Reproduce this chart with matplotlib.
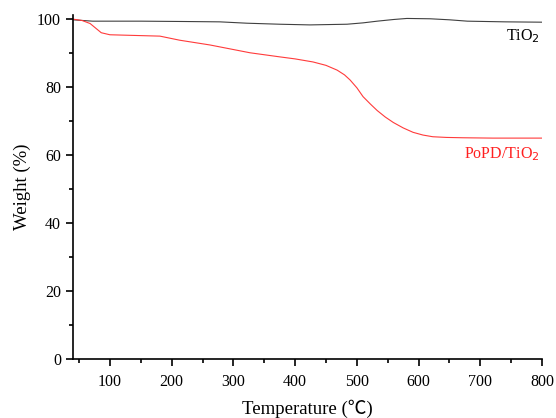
import matplotlib
matplotlib.use("Agg")
import matplotlib.pyplot as plt
from matplotlib.ticker import MultipleLocator

# TGA curves
t_tio2 = [40, 72, 150, 220, 278, 322, 375, 424, 484, 510, 533, 560, 581, 619, 650, 679, 740, 800]
w_tio2 = [99.8, 99.4, 99.4, 99.3, 99.2, 98.8, 98.5, 98.3, 98.5, 98.9, 99.4, 99.9, 100.2, 100.1, 99.8, 99.4, 99.2, 99.1]

t_popd = [40, 55, 68, 78, 86, 100, 140, 181, 213, 262, 327, 375, 400, 429, 450, 468, 480, 489,
          500, 510, 522, 533, 546, 559, 575, 591, 607, 623, 645, 672, 720, 800]
w_popd = [100.0, 99.6, 98.7, 97.2, 96.0, 95.4, 95.2, 95.0, 93.8, 92.4, 90.1, 88.9, 88.3, 87.4, 86.4, 85.0, 83.6, 82.1,
          79.8, 77.2, 75.0, 73.1, 71.2, 69.6, 68.0, 66.7, 65.9, 65.4, 65.2, 65.1, 65.0, 65.0]

plt.rcParams['font.family'] = ['Liberation Serif', 'Noto Sans CJK SC', 'DejaVu Sans']

fig = plt.figure(figsize=(5.56, 4.18), dpi=100)
ax = fig.add_axes([0.131, 0.141, 0.844, 0.823])

ax.plot(t_tio2, w_tio2, color='#404040', lw=0.8)
ax.plot(t_popd, w_popd, color='#ff3b3b', lw=0.8)

ax.set_xlim(40, 800)
ax.set_ylim(0, 101.2)
ax.xaxis.set_major_locator(MultipleLocator(100))
ax.xaxis.set_minor_locator(MultipleLocator(50))
ax.yaxis.set_major_locator(MultipleLocator(20))
ax.yaxis.set_minor_locator(MultipleLocator(10))

for s in ['top', 'right']:
    ax.spines[s].set_visible(False)
for s in ['left', 'bottom']:
    ax.spines[s].set_linewidth(1.2)
ax.tick_params(which='major', direction='out', length=5, width=1.2, labelsize=11.5)
ax.tick_params(axis='x', which='major', pad=5.5)
ax.tick_params(which='minor', direction='out', length=3, width=1.2)

ax.set_xlabel('Temperature (℃)', fontsize=13.5, labelpad=7)
ax.set_ylabel('Weight (%)', fontsize=13.5, labelpad=4)

ax.text(796, 95.0, 'TiO$_2$', fontsize=11.5, ha='right', va='center')
ax.text(796, 60.4, 'PoPD/TiO$_2$', fontsize=11.5, ha='right', va='center', color='#ff2020')

fig.savefig('out.png', dpi=100)
